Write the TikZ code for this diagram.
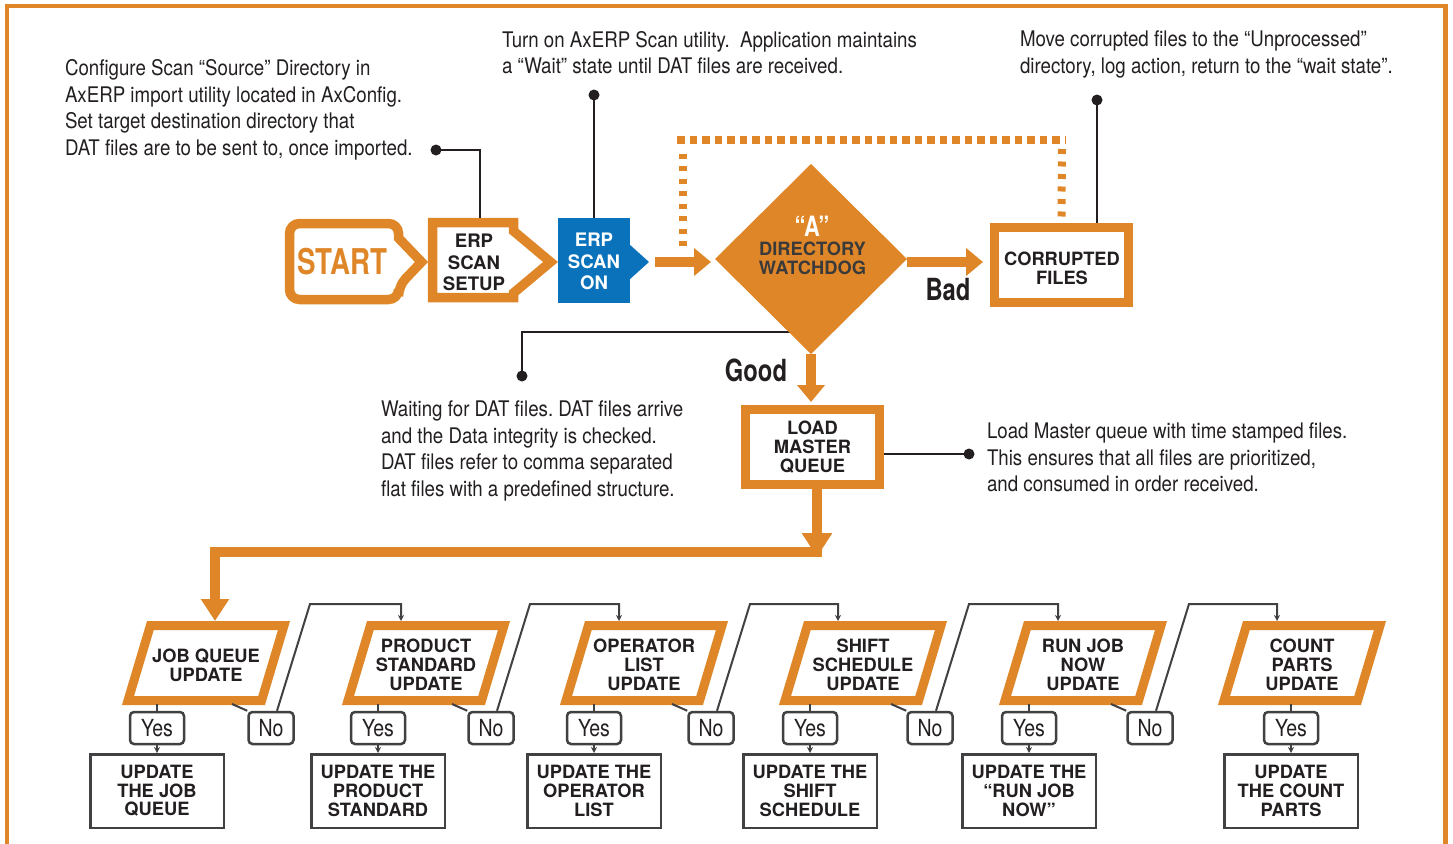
\documentclass[tikz,border=0pt]{standalone}
\usepackage{fontspec}
\setmainfont{TeX Gyre Heros}
\newfontfamily\condf[FakeStretch=0.87]{TeX Gyre Heros}
\newfontfamily\condy[FakeStretch=0.83]{TeX Gyre Heros}
\newfontfamily\condbf[FakeStretch=0.78]{TeX Gyre Heros}
\usetikzlibrary{arrows.meta,shapes.geometric,calc}
\definecolor{ora}{RGB}{223,135,40}
\definecolor{erpblue}{RGB}{10,114,186}
\definecolor{ink}{RGB}{35,31,32}
\definecolor{gry}{RGB}{65,64,66}
\definecolor{dgray}{RGB}{58,58,58}
\frenchspacing
\begin{document}
\begin{tikzpicture}[x=1pt,y=-1pt,line join=miter,
  ann/.style={font=\condf\fontsize{21.5}{26.6}\selectfont, text=ink, align=left, anchor=north west, inner sep=0pt, outer sep=0pt},
  lbl/.style={font=\bfseries\fontsize{18.3}{18.7}\selectfont, text=ink, align=center, inner sep=0pt},
  erplbl/.style={font=\bfseries\fontsize{18.6}{21.5}\selectfont, align=center, inner sep=0pt},
  obox/.style={draw=ora, line width=9pt, minimum width=134pt, minimum height=75pt, inner sep=0pt},
  orangeline/.style={draw=ora, line width=9.5pt, line join=miter},
  oarrow/.style={draw=ora, line width=10pt, -{Triangle[length=17pt,width=27pt]}},
  leader/.style={draw=ink, line width=1.3pt},
  blackdot/.style={circle, fill=ink, inner sep=0pt, minimum size=11pt},
  xdots/.style={draw=ora, line width=8pt, dash pattern=on 7.5pt off 5pt},
  ydots/.style={draw=ora, line width=8pt, dash pattern=on 5pt off 7.5pt},
  gline/.style={draw=gry, line width=2pt},
  gtip/.style={-{Stealth[length=6pt,width=6pt]}},
  yesbox/.style={draw=gry, line width=2.5pt, rounded corners=4pt, minimum width=54pt, minimum height=32pt, inner sep=0pt, font=\condy\fontsize{23.5}{24}\selectfont, text=ink},
  nobox/.style={yesbox, minimum width=45pt},
  rbox/.style={draw=gry, line width=2.5pt, minimum width=133.5pt, minimum height=73.5pt, inner sep=0pt, lbl},
  pbox/.style={draw=ora, line width=9pt, line join=miter},
  bigword/.style={font=\condbf\bfseries\fontsize{30.5}{30.5}\selectfont, text=ink, inner sep=0pt}
]
\useasboundingbox (0,0) rectangle (1453,843);
% frame
\draw[ora, line width=4.5pt] (7,6) rectangle (1445.5,900);

% annotations
\node[ann] (a1) at (65,59.5) {Configure Scan “Source” Directory in\\AxERP import utility located in AxConfig.\\Set target destination directory that\\DAT files are to be sent to, once imported.};
\node[ann] (a2) at (502,31) {Turn on AxERP Scan utility.\ \ Application maintains\\a “Wait” state until DAT files are received.};
\node[ann] (a3) at (1020,31) {Move corrupted files to the “Unprocessed”\\directory, log action, return to the “wait state”.};
\node[ann] (a4) at (381,401) {Waiting for DAT files. DAT files arrive\\and the Data integrity is checked.\\DAT files refer to comma separated\\flat files with a predefined structure.};
\node[ann] (a5) at (987,423) {Load Master queue with time stamped files.\\This ensures that all files are prioritized,\\and consumed in order received.};

% START
\draw[orangeline] (398.5,238) [rounded corners=10pt] -- (398.5,223.5) -- (289.5,223.5) -- (289.5,299.5) -- (398.5,299.5) -- (398.5,286) [sharp corners] -- (421.5,262) -- cycle;
\node[font=\condbf\bfseries\fontsize{35.5}{35.5}\selectfont, text=ora, inner sep=0pt] (start) at (342.5,262) {START};

% ERP SCAN SETUP
\draw[orangeline] (432.5,222.5) -- (513.5,222.5) -- (513.5,231) -- (550.5,262) -- (513.5,293) -- (513.5,297.5) -- (432.5,297.5) -- cycle;
\node[erplbl, text=ink] (setup) at (474,262.5) {ERP\\SCAN\\SETUP};
\coordinate (setuptop) at (480,218);

% ERP SCAN ON
\node[fill=erpblue, minimum width=72pt, minimum height=85pt, inner sep=0pt, outer sep=0pt] (erpon) at (594,260.5) {};
\fill[erpblue] (629,244) -- (649,262) -- (629,280) -- cycle;
\node[erplbl, text=white] (erptxt) at (594,261.5) {ERP\\SCAN\\ON};
\coordinate (erptip) at (649,262);

% leaders top
\node[blackdot] (d1) at (436,150) {};
\draw[leader] (d1.center) -| (setuptop);
\node[blackdot] (d2) at (594,95) {};
\draw[leader] (d2.center) -- (erpon.north);
\node[blackdot] (d3) at (1097,100) {};

% waiting leader (behind diamond)
\node[blackdot] (d4) at (522,376) {};
\coordinate (wcorner) at (522,332);
\draw[leader] (d4.center) -- (wcorner) -- (800,332);

% dotted loop
\coordinate (lp1) at (683,246);
\coordinate (lp2) at (683,140);
\coordinate (lp3) at (1062,140);
\draw[ydots] (lp1) -- ([yshift=-9pt]lp2);
\draw[xdots] ([xshift=-6pt]lp2) -- ([xshift=4pt]lp3);

% diamond
\node[diamond, fill=ora, minimum width=192pt, minimum height=190pt, inner sep=0pt, outer sep=0pt] (dia) at (811,259) {};
\node[font=\condbf\bfseries\fontsize{28}{28}\selectfont, text=white, inner sep=0pt] (dA) at (812,226) {“A”};
\node[font=\bfseries\fontsize{18.3}{19}\selectfont, text=dgray, align=center, inner sep=0pt] (dtxt) at (812.5,258.5) {DIRECTORY\\WATCHDOG};

% corrupted
\node[obox] (corr) at (1061.5,265) {};
\node[lbl] (corrtxt) at (1062,268.5) {CORRUPTED\\FILES};
\draw[ydots] ([yshift=-9pt]lp3) -- ([yshift=3pt]corr.north);
\draw[leader] (d3.center) -- (d3 |- corr.north);

% load master queue
\node[obox] (lmq) at (812.5,447) {};
\node[lbl] (lmqtxt) at (812.5,447) {LOAD\\MASTER\\QUEUE};
\node[blackdot] (d5) at (969,454) {};
\draw[leader] (lmq.east |- d5) -- (d5.center);

% orange connectors
\draw[oarrow, shorten >=4pt] ([xshift=6pt]erptip) -- (erptip -| dia.west);
\draw[oarrow, shorten >=7pt] (dia.east |- erptip) -- (corr.west |- erptip);
\draw[oarrow, shorten >=3pt] (dia.south) -- (dia.south |- lmq.north);
\node[bigword] (bad) at (948,290) {Bad};
\node[bigword] (good) at (756,370) {Good};

\coordinate (m1) at (817,557);
\draw[draw=ora, line width=10pt, -{Triangle[length=24pt,width=29pt]}] ([xshift=4.5pt]lmq.south) -- (m1);

% bottom row
\foreach \i/\cx/\yx/\ptxt/\rtxt in {
  1/206/157/{JOB QUEUE\\UPDATE}/{UPDATE\\THE JOB\\QUEUE},
  2/426/378/{PRODUCT\\STANDARD\\UPDATE}/{UPDATE THE\\PRODUCT\\STANDARD},
  3/644/594/{OPERATOR\\LIST\\UPDATE}/{UPDATE THE\\OPERATOR\\LIST},
  4/863/810/{SHIFT\\SCHEDULE\\UPDATE}/{UPDATE THE\\SHIFT\\SCHEDULE},
  5/1083/1029/{RUN JOB\\NOW\\UPDATE}/{UPDATE THE\\“RUN JOB\\NOW”},
  6/1302/1291/{COUNT\\PARTS\\UPDATE}/{UPDATE\\THE COUNT\\PARTS}} {
  \draw[pbox] ({\cx-55.6},625.5) -- ({\cx+78},625.5) -- ({\cx+55.6},700.5) -- ({\cx-78},700.5) -- cycle;
  \node[lbl] (p\i) at (\cx,665) {\ptxt};
  \coordinate (t\i) at ({\cx-25},621);
  \node[yesbox] (y\i) at (\yx,728) {Yes};
  \node[rbox] (r\i) at (\yx,791) {\rtxt};
  \draw[gline] (\yx,704) -- (y\i.north);
  \draw[gline,gtip] (y\i.south) -- (r\i.north);
}
\draw[draw=ora, line width=10pt, -{Triangle[length=22pt,width=27pt]}] (822,552) -- (215,552) -- (215,621);

\foreach \i/\j/\nx in {1/2/271, 2/3/491, 3/4/711, 4/5/930, 5/6/1150} {
  \node[nobox] (n\i) at (\nx,728) {No};
  \draw[gline] ({\nx-39},704) -- (n\i.north west);
  \draw[gline,gtip] ([xshift=6pt]n\i.north) -- ({\nx+39},604) -| (t\j);
}
\end{tikzpicture}
\end{document}
